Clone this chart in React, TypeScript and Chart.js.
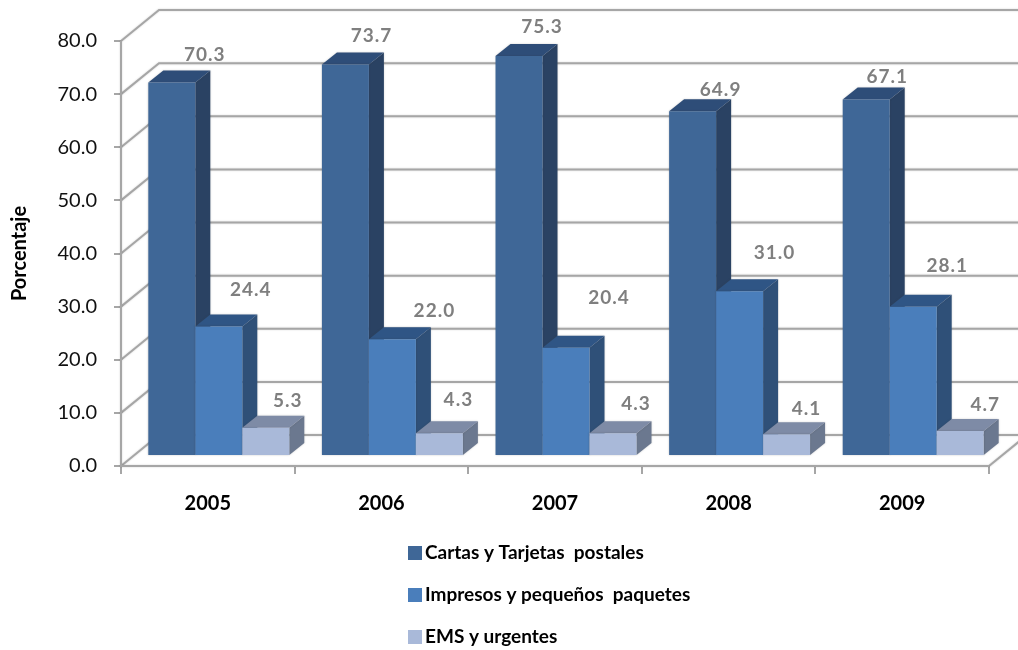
import { useEffect, useRef } from "react";
import { Chart, registerables } from "chart.js";

Chart.register(...registerables);

const categories = ["2005", "2006", "2007", "2008", "2009"];
const cartas = [70.3, 73.7, 75.3, 64.9, 67.1];
const impresos = [24.4, 22.0, 20.4, 31.0, 28.1];
const ems = [5.3, 4.3, 4.3, 4.1, 4.7];
const seriesNames = ["Cartas y Tarjetas  postales", "Impresos y pequeños  paquetes", "EMS y urgentes"];

const FONT = "Lato, Carlito, sans-serif";
const faces = [
  { front: "#3f6797", side: "#2a4263", top: "#2e4d78" },
  { front: "#4a7ebb", side: "#2f5078", top: "#2f5585" },
  { front: "#a9b9d9", side: "#6b788f", top: "#7e8ba6" },
];
// nudges of each value label from the centre of its bar's top edge (dx, dy)
const labelNudges = [
  [[33, -28], [26, -29], [23, -29], [28, -21], [21, -23]],
  [[32, -37], [42, -28], [43, -50], [35, -38], [34, -41]],
  [[22, -27], [19, -33], [23, -29], [20, -25], [25, -26]],
];
const WALL = { dx: 38, dy: -31 };
const BAR_SHIFT = { dx: 11, dy: -10 };
const BAR_DEPTH = { dx: 15, dy: -12 };
const GRID = "#a6a6a6";

const threeD = {
  id: "threeD",
  beforeDatasetsDraw(chart: any) {
    const { ctx, chartArea, scales } = chart;
    const { left, right, bottom, top } = chartArea;
    ctx.save();
    ctx.lineWidth = 2;
    ctx.strokeStyle = GRID;
    ctx.shadowColor = "rgba(0,0,0,0.18)";
    ctx.shadowBlur = 2;
    for (const t of scales.y.ticks) {
      const y = scales.y.getPixelForValue(t.value);
      ctx.beginPath();
      ctx.moveTo(left, y);
      ctx.lineTo(left + WALL.dx, y + WALL.dy);
      ctx.lineTo(right + WALL.dx, y + WALL.dy);
      ctx.stroke();
    }
    ctx.beginPath();
    ctx.moveTo(right, bottom);
    ctx.lineTo(right + WALL.dx, bottom + WALL.dy);
    ctx.stroke();
    ctx.beginPath();
    ctx.moveTo(left, top);
    ctx.lineTo(left, bottom);
    ctx.lineTo(right, bottom);
    ctx.stroke();
    ctx.restore();

    // Painter's order: first series at the back, so later bars cover its side face.
    chart.data.datasets.forEach((_: any, i: number) => {
      const meta = chart.getDatasetMeta(i);
      const f = faces[i];
      ctx.save();
      ctx.translate(BAR_SHIFT.dx, BAR_SHIFT.dy);
      ctx.shadowColor = "rgba(60,60,60,0.25)";
      ctx.shadowBlur = 2;
      for (const el of meta.data) {
        const { x, y, base, width } = el.getProps(["x", "y", "base", "width"], true);
        const x1 = x - width / 2;
        const x2 = x + width / 2;
        ctx.fillStyle = f.side;
        ctx.beginPath();
        ctx.moveTo(x2, y);
        ctx.lineTo(x2 + BAR_DEPTH.dx, y + BAR_DEPTH.dy);
        ctx.lineTo(x2 + BAR_DEPTH.dx, base + BAR_DEPTH.dy);
        ctx.lineTo(x2, base);
        ctx.closePath();
        ctx.fill();
        ctx.fillStyle = f.top;
        ctx.beginPath();
        ctx.moveTo(x1, y);
        ctx.lineTo(x1 + BAR_DEPTH.dx, y + BAR_DEPTH.dy);
        ctx.lineTo(x2 + BAR_DEPTH.dx, y + BAR_DEPTH.dy);
        ctx.lineTo(x2, y);
        ctx.closePath();
        ctx.fill();
      }
      meta.controller.draw();
      ctx.restore();
    });
  },
  // The bars were already painted above, in depth order.
  beforeDatasetDraw() {
    return false;
  },
  afterDatasetsDraw(chart: any) {
    const { ctx } = chart;
    ctx.save();
    ctx.font = `bold 19px ${FONT}`;
    ctx.fillStyle = "#7f7f7f";
    ctx.textAlign = "center";
    ctx.textBaseline = "middle";
    (ctx as any).letterSpacing = "1px";
    chart.data.datasets.forEach((ds: any, i: number) => {
      const meta = chart.getDatasetMeta(i);
      meta.data.forEach((el: any, j: number) => {
        const { x, y } = el.getProps(["x", "y"], true);
        const [nx, ny] = labelNudges[i][j];
        ctx.fillText(ds.data[j].toFixed(1), x + BAR_SHIFT.dx + nx, y + BAR_SHIFT.dy + ny);
      });
    });
    ctx.restore();
    // legend
    ctx.save();
    ctx.font = `bold 19px ${FONT}`;
    ctx.textBaseline = "middle";
    ctx.textAlign = "left";
    chart.data.datasets.forEach((ds: any, i: number) => {
      const rowY = 553 + i * 42;
      ctx.fillStyle = faces[i].front;
      ctx.fillRect(408, rowY - 7, 14, 14);
      ctx.fillStyle = "#000000";
      ctx.fillText(ds.label, 425, rowY);
    });
    ctx.restore();
  },
};

export default function App() {
  const ref = useRef<HTMLCanvasElement>(null);
  useEffect(() => {
    const series = [cartas, impresos, ems];
    const chart = new Chart(ref.current as HTMLCanvasElement, {
      type: "bar",
      data: {
        labels: categories,
        datasets: series.map((data, i) => ({
          label: seriesNames[i],
          data,
          backgroundColor: faces[i].front,
          clip: false as any,
          categoryPercentage: 0.812,
          barPercentage: 1,
        })),
      },
      options: {
        responsive: false,
        animation: false,
        devicePixelRatio: 1,
        layout: { padding: { left: 0, right: 29, top: 41, bottom: 0 } },
        plugins: { legend: { display: false }, tooltip: { enabled: false } },
        scales: {
          x: {
            afterFit(s: any) { s.height = 184; },
            grid: { drawOnChartArea: false, drawTicks: true, tickLength: 8, color: GRID, lineWidth: 2 },
            border: { display: false },
            ticks: { color: "#000", font: { family: FONT, weight: "bold", size: 20 }, padding: 18, maxRotation: 0 },
          },
          y: {
            min: 0,
            max: 80,
            afterFit(s: any) { s.width = 121; },
            grid: { drawOnChartArea: false, drawTicks: true, tickLength: 7, color: GRID, lineWidth: 2 },
            border: { display: false },
            ticks: {
              stepSize: 10,
              color: "#111",
              font: { family: FONT, weight: "normal", size: 20 },
              padding: 17,
              callback: (v: any) => Number(v).toFixed(1),
            },
            title: {
              display: true,
              text: "Porcentaje",
              color: "#000",
              font: { family: FONT, weight: "bold", size: 20 },
              padding: { top: 8, bottom: 0 },
            },
          },
        },
      },
      plugins: [threeD],
    } as any);
    return () => chart.destroy();
  }, []);
  return (
    <canvas
      ref={ref}
      width={1018}
      height={650}
      style={{ position: "absolute", left: 0, top: 0, width: 1018, height: 650, display: "block" }}
    />
  );
}
